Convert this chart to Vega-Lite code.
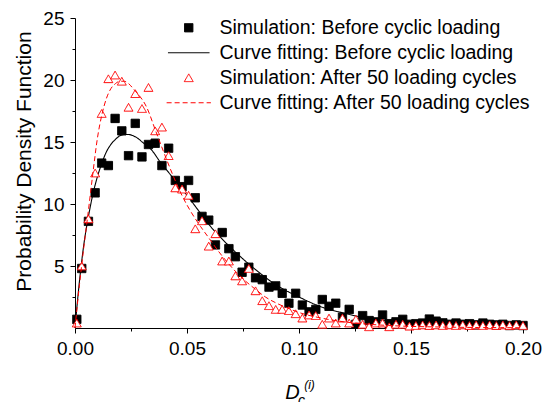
{
  "$schema": "https://vega.github.io/schema/vega-lite/v6.json",
  "width": 448,
  "height": 310,
  "autosize": {"type": "none"},
  "padding": {"left": 75, "top": 18, "right": 20, "bottom": 74},
  "config": {
    "view": {"stroke": null},
    "font": "Liberation Sans",
    "axis": {"grid": false, "domainColor": "#000", "tickColor": "#000", "labelColor": "#000", "titleColor": "#000", "labelFont": "Liberation Sans", "titleFont": "Liberation Sans", "titleFontWeight": "normal", "labelFontSize": 19, "titleFontSize": 19.5, "domainWidth": 1, "tickWidth": 1}
  },
  "datasets": {
    "pts": [
      {"s": "S1", "x": 0.0008, "y": 0.7}, {"s": "S1", "x": 0.0030, "y": 4.8}, {"s": "S1", "x": 0.0060, "y": 8.6}, {"s": "S1", "x": 0.0090, "y": 10.9},
      {"s": "S1", "x": 0.0119, "y": 13.3}, {"s": "S1", "x": 0.0149, "y": 13.1}, {"s": "S1", "x": 0.0179, "y": 16.9}, {"s": "S1", "x": 0.0209, "y": 15.9},
      {"s": "S1", "x": 0.0239, "y": 13.9}, {"s": "S1", "x": 0.0269, "y": 16.5}, {"s": "S1", "x": 0.0299, "y": 13.8}, {"s": "S1", "x": 0.0328, "y": 14.8},
      {"s": "S1", "x": 0.0358, "y": 14.9}, {"s": "S1", "x": 0.0388, "y": 13.1}, {"s": "S1", "x": 0.0418, "y": 14.5}, {"s": "S1", "x": 0.0448, "y": 11.9},
      {"s": "S1", "x": 0.0478, "y": 11.4}, {"s": "S1", "x": 0.0507, "y": 11.9}, {"s": "S1", "x": 0.0537, "y": 10.5}, {"s": "S1", "x": 0.0567, "y": 9.0},
      {"s": "S1", "x": 0.0597, "y": 8.7}, {"s": "S1", "x": 0.0627, "y": 6.7}, {"s": "S1", "x": 0.0657, "y": 7.7}, {"s": "S1", "x": 0.0687, "y": 6.4},
      {"s": "S1", "x": 0.0716, "y": 5.75}, {"s": "S1", "x": 0.0746, "y": 4.5}, {"s": "S1", "x": 0.0776, "y": 4.9}, {"s": "S1", "x": 0.0806, "y": 4.05},
      {"s": "S1", "x": 0.0836, "y": 3.9}, {"s": "S1", "x": 0.0866, "y": 3.3}, {"s": "S1", "x": 0.0896, "y": 3.4}, {"s": "S1", "x": 0.0925, "y": 2.8},
      {"s": "S1", "x": 0.0955, "y": 2.0}, {"s": "S1", "x": 0.0985, "y": 2.8}, {"s": "S1", "x": 0.1015, "y": 1.85}, {"s": "S1", "x": 0.1045, "y": 1.3},
      {"s": "S1", "x": 0.1075, "y": 1.5}, {"s": "S1", "x": 0.1104, "y": 2.3}, {"s": "S1", "x": 0.1134, "y": 1.75}, {"s": "S1", "x": 0.1164, "y": 2.0},
      {"s": "S1", "x": 0.1194, "y": 0.86}, {"s": "S1", "x": 0.1224, "y": 1.5}, {"s": "S1", "x": 0.1254, "y": 0.3}, {"s": "S1", "x": 0.1284, "y": 1.0},
      {"s": "S1", "x": 0.1313, "y": 0.6}, {"s": "S1", "x": 0.1343, "y": 0.5}, {"s": "S1", "x": 0.1373, "y": 1.05}, {"s": "S1", "x": 0.1403, "y": 0.35},
      {"s": "S1", "x": 0.1433, "y": 0.5}, {"s": "S1", "x": 0.1463, "y": 0.7}, {"s": "S1", "x": 0.1493, "y": 0.3}, {"s": "S1", "x": 0.1522, "y": 0.35},
      {"s": "S1", "x": 0.1552, "y": 0.4}, {"s": "S1", "x": 0.1582, "y": 0.72}, {"s": "S1", "x": 0.1612, "y": 0.55}, {"s": "S1", "x": 0.1642, "y": 0.42},
      {"s": "S1", "x": 0.1672, "y": 0.3}, {"s": "S1", "x": 0.1701, "y": 0.4}, {"s": "S1", "x": 0.1731, "y": 0.3}, {"s": "S1", "x": 0.1761, "y": 0.35},
      {"s": "S1", "x": 0.1791, "y": 0.25}, {"s": "S1", "x": 0.1821, "y": 0.4}, {"s": "S1", "x": 0.1851, "y": 0.3}, {"s": "S1", "x": 0.1881, "y": 0.25},
      {"s": "S1", "x": 0.1910, "y": 0.3}, {"s": "S1", "x": 0.1940, "y": 0.2}, {"s": "S1", "x": 0.1970, "y": 0.25}, {"s": "S1", "x": 0.2000, "y": 0.2},
      {"s": "S2", "x": 0.0008, "y": 0.4}, {"s": "S2", "x": 0.0030, "y": 5.0}, {"s": "S2", "x": 0.0060, "y": 8.8}, {"s": "S2", "x": 0.0090, "y": 12.5},
      {"s": "S2", "x": 0.0119, "y": 17.3}, {"s": "S2", "x": 0.0149, "y": 20.1}, {"s": "S2", "x": 0.0179, "y": 20.4}, {"s": "S2", "x": 0.0209, "y": 19.9},
      {"s": "S2", "x": 0.0239, "y": 17.8}, {"s": "S2", "x": 0.0269, "y": 18.9}, {"s": "S2", "x": 0.0299, "y": 17.7}, {"s": "S2", "x": 0.0328, "y": 19.4},
      {"s": "S2", "x": 0.0358, "y": 15.9}, {"s": "S2", "x": 0.0388, "y": 16.2}, {"s": "S2", "x": 0.0418, "y": 13.9}, {"s": "S2", "x": 0.0448, "y": 11.3},
      {"s": "S2", "x": 0.0478, "y": 11.2}, {"s": "S2", "x": 0.0507, "y": 10.7}, {"s": "S2", "x": 0.0537, "y": 8.0}, {"s": "S2", "x": 0.0567, "y": 8.65},
      {"s": "S2", "x": 0.0597, "y": 6.6}, {"s": "S2", "x": 0.0627, "y": 7.6}, {"s": "S2", "x": 0.0657, "y": 5.4}, {"s": "S2", "x": 0.0687, "y": 5.4},
      {"s": "S2", "x": 0.0716, "y": 4.2}, {"s": "S2", "x": 0.0746, "y": 3.8}, {"s": "S2", "x": 0.0776, "y": 4.8}, {"s": "S2", "x": 0.0806, "y": 3.0},
      {"s": "S2", "x": 0.0836, "y": 2.2}, {"s": "S2", "x": 0.0866, "y": 1.8}, {"s": "S2", "x": 0.0896, "y": 1.5}, {"s": "S2", "x": 0.0925, "y": 1.5},
      {"s": "S2", "x": 0.0955, "y": 1.4}, {"s": "S2", "x": 0.0985, "y": 1.15}, {"s": "S2", "x": 0.1015, "y": 0.8}, {"s": "S2", "x": 0.1045, "y": 1.05},
      {"s": "S2", "x": 0.1075, "y": 1.0}, {"s": "S2", "x": 0.1104, "y": 0.3}, {"s": "S2", "x": 0.1134, "y": 0.8}, {"s": "S2", "x": 0.1164, "y": 0.4},
      {"s": "S2", "x": 0.1194, "y": 0.8}, {"s": "S2", "x": 0.1224, "y": 0.4}, {"s": "S2", "x": 0.1254, "y": 0.7}, {"s": "S2", "x": 0.1284, "y": 0.3},
      {"s": "S2", "x": 0.1313, "y": 0.1}, {"s": "S2", "x": 0.1343, "y": 0.4}, {"s": "S2", "x": 0.1373, "y": 0.4}, {"s": "S2", "x": 0.1403, "y": 0.1},
      {"s": "S2", "x": 0.1433, "y": 0.3}, {"s": "S2", "x": 0.1463, "y": 0.3}, {"s": "S2", "x": 0.1493, "y": 0.15}, {"s": "S2", "x": 0.1522, "y": 0.2},
      {"s": "S2", "x": 0.1552, "y": 0.25}, {"s": "S2", "x": 0.1582, "y": 0.2}, {"s": "S2", "x": 0.1612, "y": 0.25}, {"s": "S2", "x": 0.1642, "y": 0.2},
      {"s": "S2", "x": 0.1672, "y": 0.25}, {"s": "S2", "x": 0.1701, "y": 0.2}, {"s": "S2", "x": 0.1731, "y": 0.25}, {"s": "S2", "x": 0.1761, "y": 0.2},
      {"s": "S2", "x": 0.1791, "y": 0.25}, {"s": "S2", "x": 0.1821, "y": 0.2}, {"s": "S2", "x": 0.1851, "y": 0.25}, {"s": "S2", "x": 0.1881, "y": 0.2},
      {"s": "S2", "x": 0.1910, "y": 0.25}, {"s": "S2", "x": 0.1940, "y": 0.2}, {"s": "S2", "x": 0.1970, "y": 0.25}, {"s": "S2", "x": 0.2000, "y": 0.2}
    ],
    "fits": [
      {"s": "F1", "x": 0.000, "y": 0}, {"s": "F1", "x": 0.002, "y": 3.8}, {"s": "F1", "x": 0.004, "y": 6.8}, {"s": "F1", "x": 0.006, "y": 9.0},
      {"s": "F1", "x": 0.008, "y": 10.8}, {"s": "F1", "x": 0.010, "y": 12.2}, {"s": "F1", "x": 0.012, "y": 13.3}, {"s": "F1", "x": 0.014, "y": 14.2},
      {"s": "F1", "x": 0.016, "y": 14.8}, {"s": "F1", "x": 0.018, "y": 15.2}, {"s": "F1", "x": 0.020, "y": 15.5}, {"s": "F1", "x": 0.022, "y": 15.6},
      {"s": "F1", "x": 0.024, "y": 15.6}, {"s": "F1", "x": 0.026, "y": 15.5}, {"s": "F1", "x": 0.028, "y": 15.3}, {"s": "F1", "x": 0.030, "y": 15.0},
      {"s": "F1", "x": 0.034, "y": 14.4}, {"s": "F1", "x": 0.038, "y": 13.4}, {"s": "F1", "x": 0.042, "y": 12.5}, {"s": "F1", "x": 0.045, "y": 11.8},
      {"s": "F1", "x": 0.050, "y": 10.7}, {"s": "F1", "x": 0.055, "y": 9.5}, {"s": "F1", "x": 0.060, "y": 8.3}, {"s": "F1", "x": 0.065, "y": 7.3},
      {"s": "F1", "x": 0.070, "y": 6.4}, {"s": "F1", "x": 0.080, "y": 4.8}, {"s": "F1", "x": 0.090, "y": 3.45}, {"s": "F1", "x": 0.100, "y": 2.5},
      {"s": "F1", "x": 0.110, "y": 1.7}, {"s": "F1", "x": 0.120, "y": 1.2}, {"s": "F1", "x": 0.130, "y": 0.8}, {"s": "F1", "x": 0.140, "y": 0.55},
      {"s": "F1", "x": 0.150, "y": 0.38}, {"s": "F1", "x": 0.160, "y": 0.27}, {"s": "F1", "x": 0.170, "y": 0.18}, {"s": "F1", "x": 0.180, "y": 0.12},
      {"s": "F1", "x": 0.190, "y": 0.08}, {"s": "F1", "x": 0.200, "y": 0.05},
      {"s": "F2", "x": 0.000, "y": 0}, {"s": "F2", "x": 0.002, "y": 3.5}, {"s": "F2", "x": 0.004, "y": 6.6}, {"s": "F2", "x": 0.006, "y": 9.5},
      {"s": "F2", "x": 0.008, "y": 12.5}, {"s": "F2", "x": 0.010, "y": 15.3}, {"s": "F2", "x": 0.012, "y": 17.2}, {"s": "F2", "x": 0.014, "y": 18.5},
      {"s": "F2", "x": 0.016, "y": 19.3}, {"s": "F2", "x": 0.018, "y": 19.7}, {"s": "F2", "x": 0.020, "y": 19.9}, {"s": "F2", "x": 0.022, "y": 19.9},
      {"s": "F2", "x": 0.024, "y": 19.7}, {"s": "F2", "x": 0.026, "y": 19.3}, {"s": "F2", "x": 0.028, "y": 18.9}, {"s": "F2", "x": 0.032, "y": 17.8},
      {"s": "F2", "x": 0.036, "y": 15.9}, {"s": "F2", "x": 0.040, "y": 14.0}, {"s": "F2", "x": 0.044, "y": 12.2}, {"s": "F2", "x": 0.048, "y": 10.6},
      {"s": "F2", "x": 0.052, "y": 9.3}, {"s": "F2", "x": 0.056, "y": 8.2}, {"s": "F2", "x": 0.060, "y": 7.2}, {"s": "F2", "x": 0.064, "y": 6.2},
      {"s": "F2", "x": 0.068, "y": 5.3}, {"s": "F2", "x": 0.072, "y": 4.5}, {"s": "F2", "x": 0.076, "y": 3.8}, {"s": "F2", "x": 0.080, "y": 3.2},
      {"s": "F2", "x": 0.085, "y": 2.5}, {"s": "F2", "x": 0.090, "y": 2.0}, {"s": "F2", "x": 0.095, "y": 1.6}, {"s": "F2", "x": 0.100, "y": 1.25},
      {"s": "F2", "x": 0.110, "y": 0.8}, {"s": "F2", "x": 0.120, "y": 0.5}, {"s": "F2", "x": 0.130, "y": 0.32}, {"s": "F2", "x": 0.140, "y": 0.2},
      {"s": "F2", "x": 0.150, "y": 0.13}, {"s": "F2", "x": 0.160, "y": 0.09}, {"s": "F2", "x": 0.170, "y": 0.06}, {"s": "F2", "x": 0.180, "y": 0.04},
      {"s": "F2", "x": 0.190, "y": 0.03}, {"s": "F2", "x": 0.200, "y": 0.02}
    ]
  },
  "resolve": {"axis": {"x": "independent", "y": "independent"}},
  "layer": [
    {
      "data": {"name": "pts"},
      "transform": [{"filter": "datum.s === 'S1'"}],
      "mark": {"type": "point", "strokeWidth": 1, "opacity": 1},
      "encoding": {
        "x": {"field": "x", "type": "quantitative", "scale": {"domain": [0, 0.2], "nice": false, "zero": false},
          "axis": {"orient": "bottom", "values": [0, 0.05, 0.1, 0.15, 0.2], "format": ".2f", "tickSize": 5, "labelPadding": 6, "labelFlush": false, "labelOverlap": false,
            "title": "D", "titleFontStyle": "italic", "titleFontSize": 20, "titleX": 217, "titleY": 70, "titleBaseline": "alphabetic", "titleAlign": "center"}},
        "y": {"field": "y", "type": "quantitative", "scale": {"domain": [0, 25], "nice": false},
          "axis": {"orient": "left", "values": [5, 10, 15, 20, 25], "tickSize": 5, "labelPadding": 6, "labelFlush": false, "labelOverlap": false,
            "title": "Probability Density Function", "titleFontSize": 21, "titleY": 143, "titlePadding": 8}},
        "shape": {"field": "s", "type": "nominal", "scale": {"domain": ["S1", "F1", "S2", "F2"], "range": ["square", "M-4.8,0H4.8", "triangle-up", "M-4.8,0H4.8"]},
          "legend": {"title": null, "orient": "none", "legendX": 104, "legendY": 0, "padding": 0, "labelFontSize": 19.5, "labelFont": "Liberation Sans", "labelColor": "#000", "labelLimit": 0, "labelOffset": 21, "rowPadding": 4, "symbolStrokeWidth": 1,
            "labelExpr": "{'S1': 'Simulation: Before cyclic loading', 'F1': 'Curve fitting: Before cyclic loading', 'S2': 'Simulation: After 50 loading cycles', 'F2': 'Curve fitting: After 50 loading cycles'}[datum.label]"}},
        "stroke": {"field": "s", "type": "nominal", "scale": {"domain": ["S1", "F1", "S2", "F2"], "range": ["#000000", "#000000", "#ff0000", "#ff0000"]}},
        "fill": {"field": "s", "type": "nominal", "scale": {"domain": ["S1", "F1", "S2", "F2"], "range": ["#000000", "transparent", "#ffffff", "transparent"]}},
        "strokeDash": {"field": "s", "type": "nominal", "scale": {"domain": ["S1", "F1", "S2", "F2"], "range": [[1, 0], [1, 0], [1, 0], [5, 3]]}},
        "size": {"field": "s", "type": "nominal", "scale": {"domain": ["S1", "F1", "S2", "F2"], "range": [70, 85, 125, 85]}}
      }
    },
    {
      "data": {"name": "fits"},
      "transform": [{"filter": "datum.s === 'F1'"}],
      "mark": {"type": "line", "strokeWidth": 1.1, "interpolate": "monotone"},
      "encoding": {
        "x": {"field": "x", "type": "quantitative",
          "axis": {"orient": "bottom", "values": [0.025, 0.075, 0.125, 0.175], "tickSize": 3, "labels": false, "domain": false,
            "title": "c", "titleFontStyle": "italic", "titleFontSize": 14, "titleX": 226, "titleY": 76, "titleBaseline": "alphabetic", "titleAlign": "center"}},
        "y": {"field": "y", "type": "quantitative",
          "axis": {"orient": "left", "values": [2.5, 7.5, 12.5, 17.5, 22.5], "tickSize": 3, "labels": false, "domain": false, "title": null}},
        "stroke": {"field": "s", "type": "nominal"},
        "strokeDash": {"field": "s", "type": "nominal"}
      }
    },
    {
      "data": {"name": "pts"},
      "transform": [{"filter": "datum.s === 'S2'"}],
      "mark": {"type": "point", "strokeWidth": 1, "opacity": 1},
      "encoding": {
        "x": {"field": "x", "type": "quantitative",
          "axis": {"orient": "bottom", "ticks": false, "labels": false, "domain": false,
            "title": "(i)", "titleFontStyle": "italic", "titleFontSize": 12, "titleX": 234, "titleY": 60, "titleBaseline": "alphabetic", "titleAlign": "center"}},
        "y": {"field": "y", "type": "quantitative", "axis": null},
        "shape": {"field": "s", "type": "nominal"},
        "stroke": {"field": "s", "type": "nominal"},
        "fill": {"field": "s", "type": "nominal"},
        "strokeDash": {"field": "s", "type": "nominal"},
        "size": {"field": "s", "type": "nominal"}
      }
    },
    {
      "data": {"name": "fits"},
      "transform": [{"filter": "datum.s === 'F2'"}],
      "mark": {"type": "line", "strokeWidth": 1, "interpolate": "monotone"},
      "encoding": {
        "x": {"field": "x", "type": "quantitative", "axis": null},
        "y": {"field": "y", "type": "quantitative", "axis": null},
        "stroke": {"field": "s", "type": "nominal"},
        "strokeDash": {"field": "s", "type": "nominal"}
      }
    }
  ]
}
